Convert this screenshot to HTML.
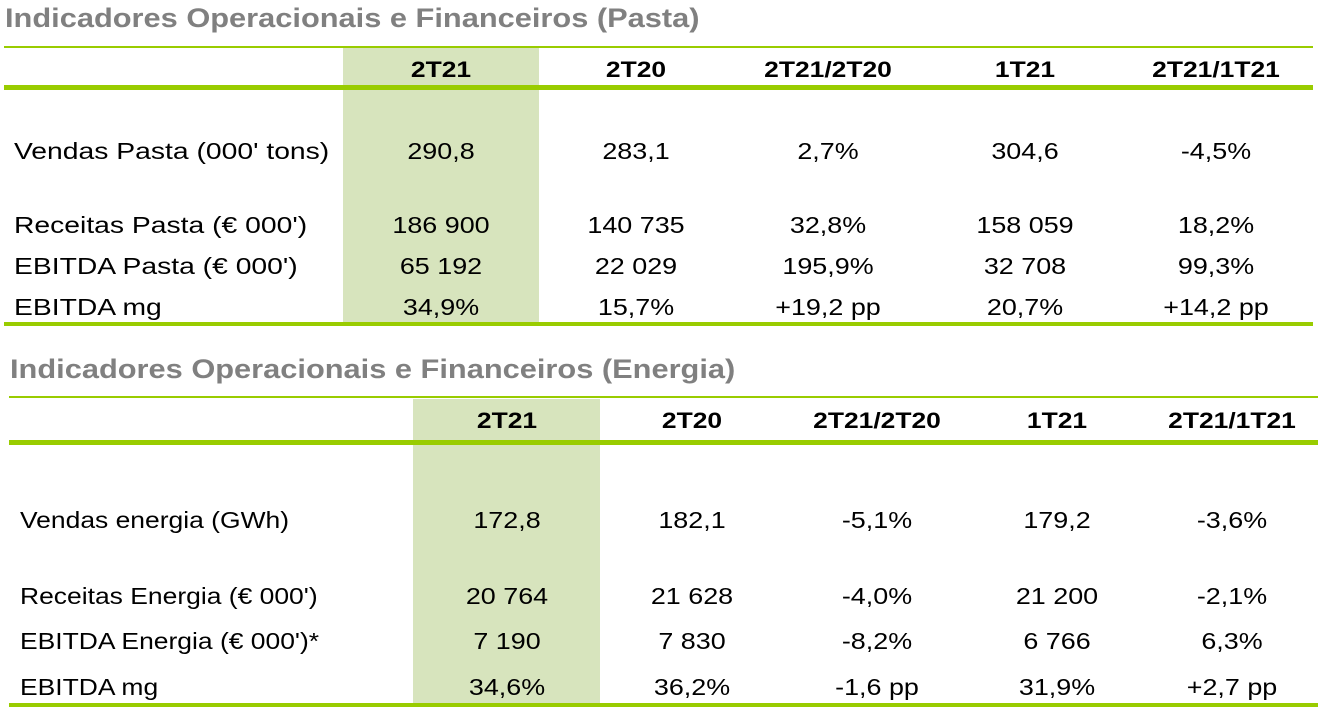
<!DOCTYPE html>
<html><head><meta charset="utf-8"><style>
body{margin:0;width:1322px;height:719px;background:#fff;position:relative;overflow:hidden;font-family:"Liberation Sans",Arial,sans-serif;}
div{position:absolute;white-space:nowrap;}
.t{font-weight:bold;color:#808080;font-size:27px;transform:scaleX(1.14);transform-origin:left center;}
.thin{height:2px;background:#99cc00;}
.thick{height:5px;background:#99cc00;}
.band{background:#d7e4bd;}
.h{font-weight:bold;font-size:22px;color:#000;transform:translateX(-50%) scaleX(1.2);line-height:24px;}
.c{font-size:23px;color:#000;transform:translateX(-50%) scaleX(1.17);line-height:26px;}
.l{font-size:23px;color:#000;line-height:26px;transform:scaleX(1.23);transform-origin:left center;}
.l2{font-size:23px;color:#000;line-height:26px;transform:scaleX(1.15);transform-origin:left center;}
</style></head><body>
<div class="t" style="left:5px;top:3px;">Indicadores Operacionais e Financeiros (Pasta)</div>
<div class="band" style="left:343px;top:48px;width:196px;height:276px;"></div>
<div class="thin" style="left:4px;top:46px;width:1309px;"></div>
<div class="thick" style="left:4px;top:85px;width:1309px;"></div>
<div class="thick" style="left:4px;top:322px;width:1309px;height:4px;"></div>
<div class="h" style="left:441px;top:58px;">2T21</div>
<div class="h" style="left:636px;top:58px;">2T20</div>
<div class="h" style="left:828px;top:58px;">2T21/2T20</div>
<div class="h" style="left:1025px;top:58px;">1T21</div>
<div class="h" style="left:1216px;top:58px;">2T21/1T21</div>

<div class="l" style="left:14px;top:138px;">Vendas Pasta (000' tons)</div>
<div class="c" style="left:441px;top:138px;">290,8</div><div class="c" style="left:636px;top:138px;">283,1</div><div class="c" style="left:828px;top:138px;">2,7%</div><div class="c" style="left:1025px;top:138px;">304,6</div><div class="c" style="left:1216px;top:138px;">-4,5%</div>
<div class="l" style="left:14px;top:212px;">Receitas Pasta (€ 000')</div>
<div class="c" style="left:441px;top:212px;">186 900</div><div class="c" style="left:636px;top:212px;">140 735</div><div class="c" style="left:828px;top:212px;">32,8%</div><div class="c" style="left:1025px;top:212px;">158 059</div><div class="c" style="left:1216px;top:212px;">18,2%</div>
<div class="l" style="left:14px;top:253px;">EBITDA Pasta (€ 000')</div>
<div class="c" style="left:441px;top:253px;">65 192</div><div class="c" style="left:636px;top:253px;">22 029</div><div class="c" style="left:828px;top:253px;">195,9%</div><div class="c" style="left:1025px;top:253px;">32 708</div><div class="c" style="left:1216px;top:253px;">99,3%</div>
<div class="l" style="left:14px;top:294px;">EBITDA mg</div>
<div class="c" style="left:441px;top:294px;">34,9%</div><div class="c" style="left:636px;top:294px;">15,7%</div><div class="c" style="left:828px;top:294px;">+19,2 pp</div><div class="c" style="left:1025px;top:294px;">20,7%</div><div class="c" style="left:1216px;top:294px;">+14,2 pp</div>

<div class="t" style="left:10px;top:354px;">Indicadores Operacionais e Financeiros (Energia)</div>
<div class="band" style="left:413px;top:399px;width:187px;height:306px;"></div>
<div class="thin" style="left:9px;top:396px;width:1309px;"></div>
<div class="thick" style="left:9px;top:440px;width:1309px;"></div>
<div class="thick" style="left:9px;top:703px;width:1309px;height:4px;"></div>
<div class="h" style="left:507px;top:409px;">2T21</div>
<div class="h" style="left:692px;top:409px;">2T20</div>
<div class="h" style="left:877px;top:409px;">2T21/2T20</div>
<div class="h" style="left:1057px;top:409px;">1T21</div>
<div class="h" style="left:1232px;top:409px;">2T21/1T21</div>

<div class="l2" style="left:20px;top:507px;">Vendas energia (GWh)</div>
<div class="c" style="left:507px;top:507px;">172,8</div><div class="c" style="left:692px;top:507px;">182,1</div><div class="c" style="left:877px;top:507px;">-5,1%</div><div class="c" style="left:1057px;top:507px;">179,2</div><div class="c" style="left:1232px;top:507px;">-3,6%</div>
<div class="l2" style="left:20px;top:583px;">Receitas Energia (€ 000')</div>
<div class="c" style="left:507px;top:583px;">20 764</div><div class="c" style="left:692px;top:583px;">21 628</div><div class="c" style="left:877px;top:583px;">-4,0%</div><div class="c" style="left:1057px;top:583px;">21 200</div><div class="c" style="left:1232px;top:583px;">-2,1%</div>
<div class="l2" style="left:20px;top:628px;">EBITDA Energia (€ 000')*</div>
<div class="c" style="left:507px;top:628px;">7 190</div><div class="c" style="left:692px;top:628px;">7 830</div><div class="c" style="left:877px;top:628px;">-8,2%</div><div class="c" style="left:1057px;top:628px;">6 766</div><div class="c" style="left:1232px;top:628px;">6,3%</div>
<div class="l2" style="left:20px;top:674px;">EBITDA mg</div>
<div class="c" style="left:507px;top:674px;">34,6%</div><div class="c" style="left:692px;top:674px;">36,2%</div><div class="c" style="left:877px;top:674px;">-1,6 pp</div><div class="c" style="left:1057px;top:674px;">31,9%</div><div class="c" style="left:1232px;top:674px;">+2,7 pp</div>
</body></html>
